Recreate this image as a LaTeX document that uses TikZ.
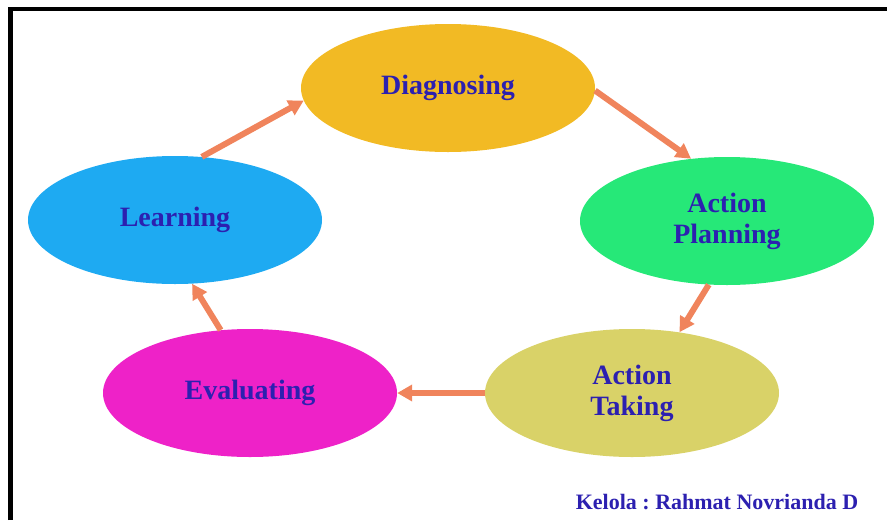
\documentclass[tikz,border=0pt]{standalone}
\usepackage{fontspec}
\setmainfont{Liberation Serif}
\usetikzlibrary{shapes.geometric,arrows.meta}
\frenchspacing

\definecolor{diagcol}{HTML}{F2BA24}
\definecolor{plancol}{HTML}{26E878}
\definecolor{learncol}{HTML}{1EAAF2}
\definecolor{evalcol}{HTML}{EE22C8}
\definecolor{takecol}{HTML}{D9D268}
\definecolor{labelblue}{HTML}{2C20B0}
\definecolor{arrowcol}{HTML}{F0845C}

\begin{document}
\begin{tikzpicture}[x=1pt,y=-1pt,
    phase/.style={ellipse, minimum width=294pt, minimum height=128pt, inner sep=0pt,
        align=center, text=labelblue, font=\bfseries\fontsize{28}{31}\selectfont},
    cyclearrow/.style={line width=6pt, draw=arrowcol, -{Triangle[length=15pt,width=16pt]}}]
    \useasboundingbox (0,0) rectangle (887,520);

    % Frame
    \draw[line width=4.5pt] (10.4,520) -- (10.4,9) -- (887,9);

    % Phases
    \node[phase, fill=diagcol] (diag) at (448,88) {Diagnosing};
    \node[phase, fill=plancol] (plan) at (727,221) {Action\\Planning};
    \node[phase, fill=takecol] (take) at (632,393) {Action\\Taking};
    \node[phase, fill=evalcol] (eval) at (250,393) {Evaluating};
    \node[phase, fill=learncol] (learn) at (175,220) {Learning};

    % Cycle arrows
    \draw[cyclearrow] (learn.67) -- (diag.185);
    \draw[cyclearrow] (diag.-1) -- (plan.120);
    \draw[cyclearrow] (plan.254) -- (take.52);
    \draw[cyclearrow] (take.180) -- (eval.0);
    \draw[cyclearrow] (eval.115) -- (learn.285);

    % Credit
    \node[text=labelblue, font=\bfseries\fontsize{22}{25}\selectfont] (credit) at (717,502)
        {Kelola : Rahmat Novrianda D};
\end{tikzpicture}
\end{document}
